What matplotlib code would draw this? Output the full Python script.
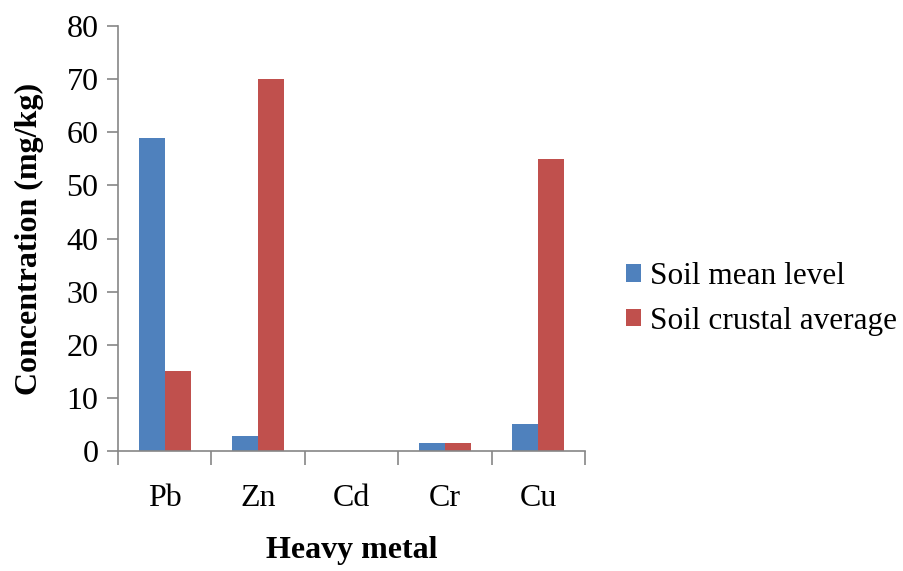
import matplotlib
matplotlib.use("Agg")
import matplotlib.pyplot as plt
import numpy as np

plt.rcParams['font.family'] = ['Liberation Serif', 'DejaVu Serif']

metals = ['Pb', 'Zn', 'Cd', 'Cr', 'Cu']
soil_mean = [59, 2.8, 0, 1.5, 5]
crustal_avg = [15, 70, 0, 1.5, 55]

fig = plt.figure(figsize=(9.04, 5.71), dpi=100)
ax = fig.add_axes([118 / 904, 1 - 451 / 571, (585 - 118) / 904, (451 - 26) / 571])

x = np.arange(len(metals))
w = 0.28
ax.bar(x - w / 2, soil_mean, w, color='#4F81BD', label='Soil mean level')
ax.bar(x + w / 2, crustal_avg, w, color='#C0504D', label='Soil crustal average')

ax.set_xlim(-0.5, len(metals) - 0.5)
ax.set_ylim(0, 80)
ax.set_yticks(range(0, 81, 10))
ax.set_xticks(x)
ax.set_xticklabels(metals)
ax.set_xticks(np.arange(-0.5, len(metals), 1), minor=True)

for s in ['top', 'right']:
    ax.spines[s].set_visible(False)
for s in ['left', 'bottom']:
    ax.spines[s].set_color('#868686')
    ax.spines[s].set_linewidth(1.2)

ax.tick_params(axis='y', length=8, width=1.2, color='#868686', labelsize=23, pad=6)
ax.tick_params(axis='x', which='major', length=0, labelsize=23, pad=24)
ax.tick_params(axis='x', which='minor', length=10, width=1.2, color='#868686')

ax.set_ylabel('Concentration (mg/kg)', fontsize=23, fontweight='bold', labelpad=16)
ax.set_xlabel('Heavy metal', fontsize=23, fontweight='bold', labelpad=16)

ax.legend(loc='center left', bbox_to_anchor=(626 / 904, 1 - 299 / 571),
          bbox_transform=fig.transFigure, frameon=False, fontsize=22.5,
          handlelength=0.47, handleheight=0.47, handletextpad=0.3,
          labelspacing=0.5, borderaxespad=0, borderpad=0)

fig.savefig('out.png', dpi=100)
